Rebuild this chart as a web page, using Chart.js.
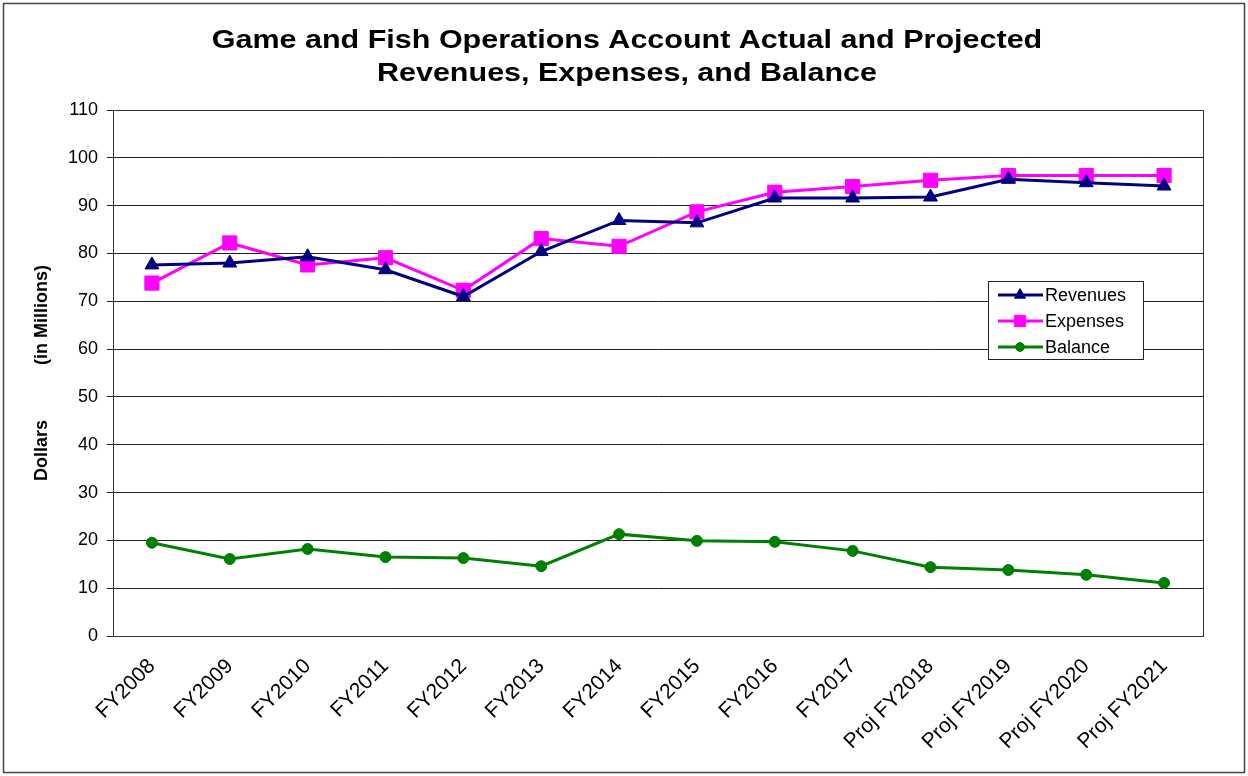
<!DOCTYPE html>
<html>
<head>
<meta charset="utf-8">
<script src="https://cdn.jsdelivr.net/npm/chart.js@4.4.1/dist/chart.umd.min.js"></script>
<style>
  html, body { margin: 0; padding: 0; background: #fff; }
  #wrap { width: 1248px; height: 776px; }
</style>
</head>
<body>
<div id="wrap"><canvas id="chart" width="1248" height="776"></canvas></div>
<script>
// -------------------- DATA --------------------
const categories = ["FY2008", "FY2009", "FY2010", "FY2011", "FY2012", "FY2013", "FY2014",
  "FY2015", "FY2016", "FY2017", "Proj FY2018", "Proj FY2019", "Proj FY2020", "Proj FY2021"];
const revenues = [77.6, 78.0, 79.3, 76.6, 71.0, 80.4, 86.9, 86.4, 91.6, 91.6, 91.8, 95.5, 94.8, 94.1];
const expenses = [73.8, 82.2, 77.6, 79.1, 72.3, 83.1, 81.5, 88.7, 92.8, 94.0, 95.3, 96.3, 96.3, 96.3];
const balance = [19.5, 16.1, 18.2, 16.5, 16.3, 14.6, 21.3, 19.9, 19.7, 17.8, 14.4, 13.8, 12.8, 11.1];
const titleLines = ["Game and Fish Operations Account Actual and Projected", "Revenues, Expenses, and Balance"];
const yTitle = "Dollars           (in Millions)";

const FONT = "Arial, 'Liberation Sans', sans-serif";

// -------------------- PLUGINS --------------------
const frame = {
  id: "frame",
  beforeDraw(chart) {
    const c = chart.ctx;
    c.save();
    c.fillStyle = "#fff";
    c.fillRect(0, 0, chart.width, chart.height);
    c.strokeStyle = "#444";
    c.lineWidth = 1.5;
    c.strokeRect(3.5, 3.5, chart.width - 7, chart.height - 7);
    // title, drawn a bit wide like the original
    c.fillStyle = "#000";
    c.font = "bold 25px " + FONT;
    c.textAlign = "center";
    c.textBaseline = "middle";
    titleLines.forEach((t, i) => {
      c.save();
      c.translate(627, 41 + i * 33);
      c.scale(1.22, 1);
      c.fillText(t, 0, 0);
      c.restore();
    });
    c.restore();
  },
  afterDatasetsDraw(chart) {
    const a = chart.chartArea;
    const c = chart.ctx;
    c.save();
    c.strokeStyle = "#333";
    c.lineWidth = 1;
    c.strokeRect(a.left + 0.5, a.top + 0.5, a.right - a.left, a.bottom - a.top);
    c.restore();
  },
  afterDraw(chart) {
    // legend box inside the plot area
    const c = chart.ctx;
    const x = 988, y = 281, w = 155, h = 78;
    c.save();
    c.fillStyle = "#fff";
    c.fillRect(x, y, w, h);
    c.strokeStyle = "#222";
    c.lineWidth = 1;
    c.strokeRect(x + 0.5, y + 0.5, w, h);
    c.font = "18px " + FONT;
    c.textBaseline = "middle";
    chart.data.datasets.forEach((ds, i) => {
      const ly = y + 14 + i * 26;
      c.strokeStyle = ds.borderColor;
      c.fillStyle = ds.backgroundColor;
      c.lineWidth = 3;
      c.beginPath();
      c.moveTo(x + 10, ly);
      c.lineTo(x + 55, ly);
      c.stroke();
      c.lineWidth = 1;
      Chart.helpers.drawPoint(c, {
        pointStyle: ds.pointStyle,
        radius: ds.pointRadius * 0.8,
        rotation: 0,
        borderWidth: 1
      }, x + 32, ly);
      c.fillStyle = "#000";
      c.fillText(ds.label, x + 57, ly + 1);
    });
    c.restore();
  }
};

// -------------------- CHART --------------------
const ctx = document.getElementById("chart").getContext("2d");

const chart = new Chart(ctx, {
  type: "line",
  data: {
    labels: categories,
    datasets: [
      {
        label: "Revenues",
        data: revenues,
        borderColor: "#000080",
        backgroundColor: "#000080",
        borderWidth: 3,
        pointStyle: "triangle",
        pointRadius: 8,
        pointBorderWidth: 1,
        tension: 0
      },
      {
        label: "Expenses",
        data: expenses,
        borderColor: "#ff00ff",
        backgroundColor: "#ff00ff",
        borderWidth: 3,
        pointStyle: "rect",
        pointRadius: 10,
        pointBorderWidth: 1,
        tension: 0
      },
      {
        label: "Balance",
        data: balance,
        borderColor: "#008000",
        backgroundColor: "#008000",
        borderWidth: 3,
        pointStyle: "circle",
        pointRadius: 5.5,
        pointBorderWidth: 1,
        tension: 0
      }
    ]
  },
  options: {
    responsive: false,
    animation: false,
    devicePixelRatio: 1,
    layout: { padding: { left: 31, right: 45, top: 110, bottom: 10 } },
    plugins: {
      legend: { display: false },
      tooltip: { enabled: false },
      title: { display: false }
    },
    scales: {
      x: {
        offset: true,
        grid: { display: false, drawTicks: false },
        border: { display: true, color: "#333", width: 1 },
        ticks: {
          color: "#000",
          font: { family: FONT, size: 21 },
          maxRotation: 45,
          minRotation: 45,
          autoSkip: false,
          padding: 18
        },
        afterFit(scale) { scale.height = 130; }
      },
      y: {
        min: 0,
        max: 110,
        ticks: {
          stepSize: 10,
          color: "#000",
          font: { family: FONT, size: 18 },
          padding: 9
        },
        grid: { color: "#222", lineWidth: 1, tickLength: 6 },
        border: { display: true, color: "#333", width: 1 },
        title: {
          display: true,
          text: yTitle,
          color: "#000",
          font: { family: FONT, size: 18, weight: "bold" },
          padding: { top: 0, bottom: 10 }
        },
        afterFit(scale) { scale.width = 82; }
      }
    }
  },
  plugins: [frame]
});
</script>
</body>
</html>
